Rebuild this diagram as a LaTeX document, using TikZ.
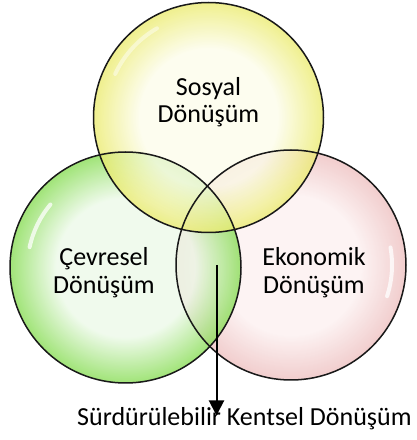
\documentclass[tikz,border=0pt]{standalone}
\usepackage{fontspec}
\setmainfont{Carlito}
\usepackage{xcolor}
\usetikzlibrary{arrows.meta}

\definecolor{yelIn}{HTML}{FCFCEA}
\definecolor{yelOut}{HTML}{EBEB6E}
\definecolor{grnIn}{HTML}{ECF9E8}
\definecolor{grnOut}{HTML}{86DC52}
\definecolor{pnkIn}{HTML}{FCF0F0}
\definecolor{pnkOut}{HTML}{EDBFBF}
\pgfdeclareradialshading{bubbleY}{\pgfpoint{0bp}{0bp}}{color(0bp)=(yelIn); color(15bp)=(yelIn); color(25bp)=(yelOut); color(50bp)=(yelOut)}
\pgfdeclareradialshading{bubbleG}{\pgfpoint{0bp}{0bp}}{color(0bp)=(grnIn); color(15bp)=(grnIn); color(25bp)=(grnOut); color(50bp)=(grnOut)}
\pgfdeclareradialshading{bubbleP}{\pgfpoint{0bp}{0bp}}{color(0bp)=(pnkIn); color(15bp)=(pnkIn); color(25bp)=(pnkOut); color(50bp)=(pnkOut)}

\begin{document}
\begin{tikzpicture}[x=1pt,y=1pt,line join=round,
    bubble/.style={fill opacity=0.78},
    gloss/.style={white,line width=4pt,line cap=round,opacity=0.75},
    rim/.style={draw=black!90,line width=1.5pt},
    lbl/.style={align=center,inner sep=0pt,font=\fontsize{26}{27.5}\selectfont}]
  \useasboundingbox (0,0) rectangle (416,440);
  \coordinate (CS) at (208.5,322.5);
  \coordinate (CC) at (125.5,172.5);
  \coordinate (CE) at (291.0,175.0);
  \coordinate (KS) at (216.5,175.0);
  \coordinate (KT) at (216.5,24.5);
  % bubbles
  \shade[bubble,shading=bubbleP] (CE) circle (115);
  \shade[bubble,shading=bubbleG] (CC) circle (115.5);
  \shade[bubble,shading=bubbleY] (CS) circle (115);
  \draw[gloss] ([shift={(10:101)}]CE) arc (10:-18:101);
  \draw[gloss] ([shift={(140:98)}]CC) arc (140:168:98);
  \draw[gloss,opacity=0.45] ([shift={(120:103)}]CS) arc (120:155:103);
  \draw[rim] (CE) circle (115);
  \draw[rim] (CC) circle (115.5);
  \draw[rim] (CS) circle (115);
  % labels
  \node[lbl] (sosyal) at (208.5,338) {Sosyal\\Dönüşüm};
  \node[lbl] (cevre) at (104,167.5) {Çevresel\\Dönüşüm};
  \node[lbl] (ekonomi) at (314,167.5) {Ekonomik\\Dönüşüm};
  \node[lbl,anchor=base west] (skd) at (77,15) {Sürdürülebilir Kentsel Dönüşüm};
  \draw[line width=2pt,-{Triangle[length=15pt,width=15pt]}] (KS) -- (KT);
\end{tikzpicture}
\end{document}
